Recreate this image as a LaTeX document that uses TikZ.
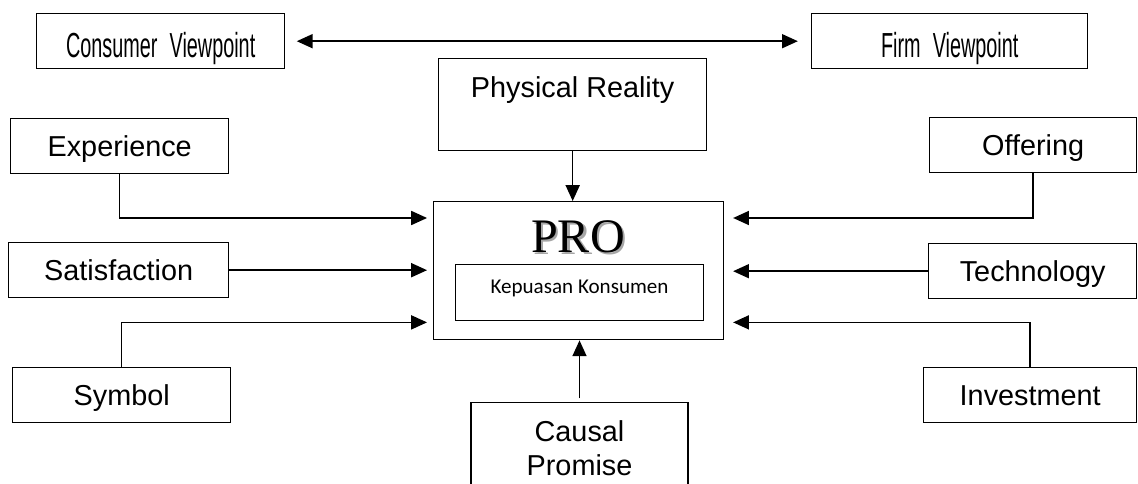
\documentclass[tikz,border=0pt]{standalone}
\usepackage{fontspec}
\setmainfont{Liberation Sans}
\newfontfamily\viewfont[FakeStretch=0.57,WordSpace=2.2]{Liberation Sans}
\newfontfamily\profont{Liberation Serif}
\newfontfamily\calfont{Carlito}
\usetikzlibrary{arrows.meta}

\begin{document}
\begin{tikzpicture}[x=0.02cm,y=-0.02cm,line width=0.8pt,
	>={Triangle[length=9pt,width=8pt]},
	box/.style={draw,below right,inner sep=0pt,align=center,font=\fontsize{16.4}{19.7}\selectfont},
	onerow/.style={box,minimum height=1.1cm,text height=21.5pt,text depth=9.7pt},
	view/.style={box,minimum height=1.1cm,text height=25pt,text depth=6.2pt,font=\viewfont\fontsize{19.8}{22}\selectfont},
	protext/.style={anchor=base,inner sep=0pt,font=\profont\fontsize{27.4}{30}\selectfont}]

	\useasboundingbox (0,0) rectangle (1138,483);

	\node[view, minimum width=4.96cm] (consumer) at (36,13) {Consumer Viewpoint};
	\node[view, minimum width=5.52cm] (firm) at (811,13) {Firm Viewpoint};
	\path[<->] (consumer.east) edge[shorten <=6.5pt, shorten >=7.5pt] (firm.west);

	\node[box, minimum width=5.36cm, minimum height=1.84cm, text height=22.1pt, text depth=30pt] (physical) at (438,58) {Physical Reality};

	\node[box, minimum width=5.80cm, minimum height=2.76cm] (pro) at (433,201) {};
	\node[protext, text=black!35] (proshadow) at (580.5,254.5) {PRO};
	\node[protext] (protitle) at (578,252) {PRO};
	\node[box, minimum width=4.96cm, minimum height=1.12cm, text height=16.4pt, text depth=15.3pt, line width=0.6pt, font=\calfont\fontsize{12}{14}\selectfont] (kepuasan) at (455,264) {Kepuasan Konsumen};
	\path[->] (physical.south) edge (physical.south |- pro.north);

	% consumer side
	\node[onerow, minimum width=4.36cm] (experience) at (10,118) {Experience};
	\node[onerow, minimum width=4.40cm] (satisfaction) at (8,242) {Satisfaction};
	\node[onerow, minimum width=4.36cm] (symbol) at (12,367) {Symbol};
	\draw[->, shorten >=3.4pt] (experience.south) |- ([yshift=-0.34cm]pro.north west);
	\draw[->, shorten >=3.4pt] (satisfaction.east) -- (satisfaction.east -| pro.west);
	\draw[->, shorten >=3.4pt] (symbol.north) |- ([yshift=0.36cm]pro.south west);

	% firm side
	\node[onerow, minimum width=4.14cm] (offering) at (929,117) {Offering};
	\node[onerow, minimum width=4.16cm] (technology) at (928,243) {Technology};
	\node[onerow, minimum width=4.26cm] (investment) at (923,367) {Investment};
	\draw[->, shorten >=5pt] (offering.south) |- ([yshift=-0.34cm]pro.north east);
	\draw[->, shorten >=5pt] (technology.west) -- (technology.west -| pro.east);
	\draw[->, shorten >=5pt] (investment.north) |- ([yshift=0.36cm]pro.south east);

	\node[box, below, inner xsep=0pt, inner ysep=10pt, minimum width=4.34cm] (causal) at (579.5,402) {Causal\\Promise};
	\path[->] (causal.north) edge[shorten <=2pt] (causal.north |- pro.south);

\end{tikzpicture}
\end{document}
